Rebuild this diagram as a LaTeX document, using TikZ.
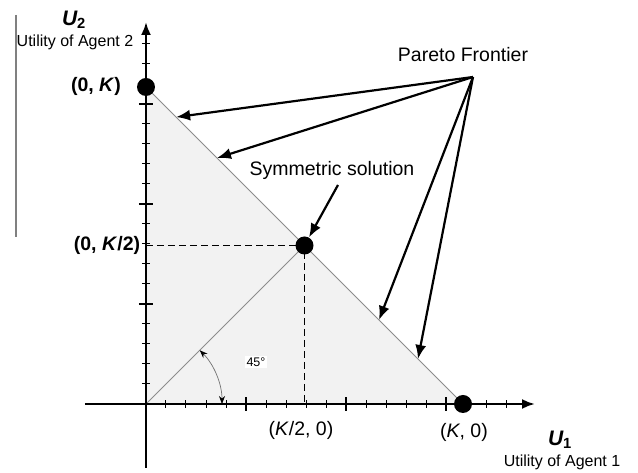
\documentclass[tikz,border=0pt]{standalone}
\usepackage{fontspec}
\setmainfont{Liberation Sans}
\usepackage{tikz}
\usetikzlibrary{arrows.meta, positioning, calc}

\begin{document}
\begin{tikzpicture}[
    x=1pt, y=1pt,
    axis/.style={-{Latex[length=13pt,width=10pt]}, line width=2.4pt},
    dot/.style={circle, fill=black, minimum size=18pt, inner sep=0pt},
    guide/.style={dashed, line width=1.4pt, dash pattern=on 7pt off 4pt},
    ptr/.style={-{Latex[length=14pt,width=11pt]}, line width=2.2pt},
    thin/.style={draw=black!45, line width=0.8pt},
    lbl/.style={font=\fontsize{19.5}{22}\selectfont, inner sep=1pt},
    blbl/.style={font=\fontsize{19.5}{22}\selectfont\bfseries, inner sep=1pt},
    sub/.style={font=\fontsize{16}{18}\selectfont, inner sep=1pt}
]
\def\K{317}
\useasboundingbox (-146,-69) rectangle (492,404);

% feasible region
\fill[black!5] (0,0) -- (0,\K) -- (\K,0) -- cycle;
\coordinate (O) at (0,0);
\coordinate (top) at (0,\K);
\coordinate (right) at (\K,0);
\draw[thin] (top) -- (right);
\draw[thin] (O) -- (\K/2,\K/2);

% axes
\coordinate (xs) at (-61,0);
\coordinate (xe) at (389,0);
\coordinate (ys) at (0,-64);
\coordinate (ye) at (0,382);
\draw[axis] (xs) -- (xe);
\draw[axis] (ys) -- (ye);
\foreach \n in {1,...,18} {
  \draw[line width=1pt] (\n*20,-4) -- (\n*20,4);
  \draw[line width=1pt] (-4,\n*20) -- (4,\n*20);
}
\foreach \n in {5,10,15} {
  \draw[line width=2.4pt] (\n*20,-7) -- (\n*20,7);
  \draw[line width=2.4pt] (-7,\n*20) -- (7,\n*20);
}

% symmetric point and guides
\coordinate (ymid) at (0,\K/2);
\coordinate (xmid) at (\K/2,0);
\node[dot] (sym) at (\K/2,\K/2) {};
\draw[guide] (ymid) -- (sym.center) -- (xmid);

% 45 degree arc
\draw[black!55, line width=0.7pt, {Stealth[black,length=8pt,width=6pt]}-{Stealth[black,length=8pt,width=6pt]}]
  (45:76) arc[start angle=45, end angle=0, radius=76];
\node[fill=white, inner sep=2pt, font=\fontsize{12.5}{14}\selectfont] (ang) at (110,42) {45°};

% corner points
\node[dot] (pk0) at (top) {};
\node[dot] (p0k) at (right) {};

% labels
\node[font=\fontsize{21}{24}\selectfont\bfseries\itshape] (u2) at (-72,384) {U\textsubscript{\upshape 2}};
\node[sub] (u2t) at (-71,362) {Utility of Agent 2};
\node[font=\fontsize{21}{24}\selectfont\bfseries\itshape] (u1) at (414,-36) {U\textsubscript{\upshape 1}};
\node[sub] (u1t) at (416,-58) {Utility of Agent 1};
\node[blbl] (lk) at (-50,318) {(0, \textit{K})};
\node[blbl] (lkh) at (-39,159) {(0, \textit{K}/2)};
\node[lbl] (lxh) at (155,-26) {(\textit{K}/2, 0)};
\node[lbl] (lx) at (318,-28) {(\textit{K}, 0)};

% annotations
\node[lbl] (pareto) at (317,349) {Pareto Frontier};
\node[lbl] (symlbl) at (186,234) {Symmetric solution};
\coordinate (src) at (327,327);
\coordinate (f1) at ($(top)!0.095!(right)$);
\coordinate (f2) at ($(top)!0.224!(right)$);
\coordinate (f3) at ($(top)!0.735!(right)$);
\coordinate (f4) at ($(top)!0.858!(right)$);
\foreach \f in {f1,f2,f3,f4}
  \draw[ptr] (src) -- (\f);
\coordinate (symtail) at (192,219);
\draw[ptr] (symtail) -- (sym);

% stray rule at the left
\draw[black!50, line width=1.2pt] (-130,389) -- (-130,167);
\end{tikzpicture}
\end{document}
